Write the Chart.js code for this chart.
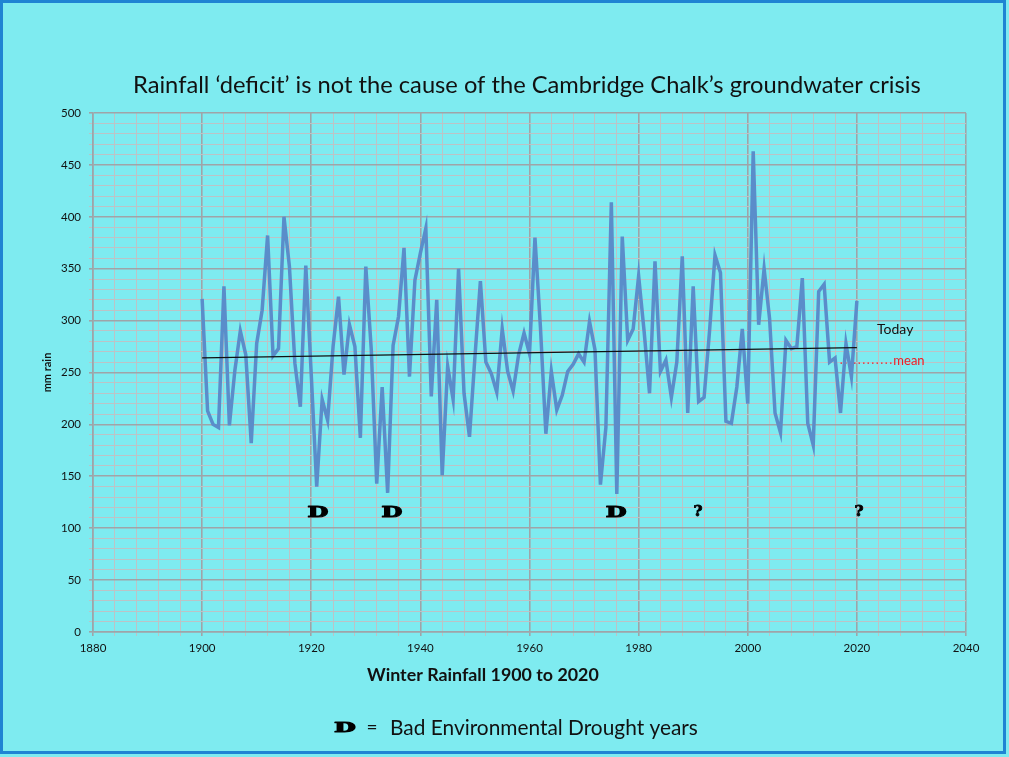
<!DOCTYPE html>
<html><head><meta charset="utf-8">
<script src="https://cdn.jsdelivr.net/npm/chart.js@4.4.1/dist/chart.umd.min.js"></script>
<style>html,body{margin:0;padding:0;background:#7eebf0;}canvas{display:block;}</style>
</head><body>
<canvas id="c" width="1009" height="757"></canvas>
<script>
// ---- data ----
const firstYear = 1900;
const rainfall = [
 321,213,200,197,333,199,252,290,267,182,
 278,310,382,266,273,400,352,259,217,353,
 248,140,224,204,275,323,248,296,275,187,
 352,272,143,236,134,276,304,370,246,339,
 365,389,227,320,151,256,224,350,230,188,
 265,338,260,249,231,292,251,232,267,288,
 268,380,294,191,251,214,228,251,258,268,
 260,299,272,142,197,414,133,381,281,292,
 343,290,230,357,251,262,226,260,362,211,
 333,222,226,290,363,346,203,201,236,292,
 220,463,296,350,302,211,192,281,273,275,
 341,201,180,328,335,260,264,211,278,246,
 319
];
const years = rainfall.map((_, i) => firstYear + i);
const trendYears = [1900, 2020];
const trendValues = [264, 274];
const meanYears = [2017, 2026.5];
const meanValues = [259, 259];
const droughtYears = [1921.2, 1934.8, 1975.9];
const queryYears = [1990.9, 2020.4];
const markerLevel = 115;
const xTickLabels = [1880, 1900, 1920, 1940, 1960, 1980, 2000, 2020, 2040];
const yTickLabels = [0, 50, 100, 150, 200, 250, 300, 350, 400, 450, 500];
const titleText = 'Rainfall \u2018deficit\u2019 is not the cause of the Cambridge Chalk\u2019s groundwater crisis';
const xTitle = 'Winter Rainfall 1900 to 2020';
const yTitle = 'mm rain';
const legendText = 'Bad Environmental Drought years';
const todayLabel = 'Today';
const meanLabel = 'mean';

// ---- styling ----
const BG = '#7eebf0';
const FONT = 'Lato, "Open Sans", sans-serif';
const MAJOR = '#9fa4a8';
const MINOR = '#bcc3c6';

function fitFont(ctx, text, weight, width) {
  ctx.font = `${weight} 100px ${FONT}`;
  return 100 * width / ctx.measureText(text).width;
}
function drawFitted(ctx, text, weight, left, right, cy, color) {
  const s = fitFont(ctx, text, weight, right - left);
  ctx.font = `${weight} ${s}px ${FONT}`;
  ctx.fillStyle = color || '#111';
  ctx.textAlign = 'left';
  ctx.textBaseline = 'middle';
  ctx.fillText(text, left, cy);
}
function drawWideGlyph(ctx, ch, cx, cy, size, sx, stroke) {
  ctx.save();
  ctx.translate(cx, cy);
  ctx.scale(sx, 1);
  ctx.font = `bold ${size}px "DejaVu Serif", serif`;
  ctx.fillStyle = '#000';
  ctx.strokeStyle = '#000';
  ctx.lineWidth = stroke;
  ctx.lineJoin = 'round';
  ctx.textAlign = 'center';
  ctx.textBaseline = 'middle';
  ctx.fillText(ch, 0, 0);
  if (stroke > 0) ctx.strokeText(ch, 0, 0);
  ctx.restore();
}

const deco = {
  id: 'deco',
  beforeDraw(chart) {
    const c = chart.ctx;
    c.save(); c.fillStyle = BG; c.fillRect(0, 0, chart.width, chart.height); c.restore();
  },
  afterDraw(chart) {
    const c = chart.ctx, xs = chart.scales.x, ys = chart.scales.y;
    c.save();
    // outer frame
    c.strokeStyle = '#1f84d3'; c.lineWidth = 3;
    c.strokeRect(1.5, 1.5, 1003, 751);
    // title
    drawFitted(c, titleText, 'normal', 133, 921, 85, '#111');
    // x title
    drawFitted(c, xTitle, 'bold', 367, 599, 675, '#111');
    // y title
    c.save();
    c.translate(47, (ys.top + ys.bottom) / 2);
    c.rotate(-Math.PI / 2);
    c.font = `bold 11px ${FONT}`;
    c.fillStyle = '#111'; c.textAlign = 'center'; c.textBaseline = 'middle';
    c.fillText(yTitle, 0, 0);
    c.restore();
    // drought markers
    const my = ys.getPixelForValue(markerLevel);
    droughtYears.forEach(y => drawWideGlyph(c, 'D', xs.getPixelForValue(y), my, 15, 1.6, 1.1));
    queryYears.forEach(y => drawWideGlyph(c, '?', xs.getPixelForValue(y), my, 14, 1.1, 0.8));
    // Today + mean labels
    c.font = `14px ${FONT}`; c.fillStyle = '#111'; c.textAlign = 'left'; c.textBaseline = 'middle';
    c.fillText(todayLabel, 877, 329);
    c.font = `13px ${FONT}`; c.fillStyle = '#ee1c25';
    c.fillText(meanLabel, xs.getPixelForValue(meanYears[1]) + 1, ys.getPixelForValue(meanValues[1]) - 2);
    // legend
    drawWideGlyph(c, 'D', 345, 729, 12, 2.05, 1.1);
    c.font = `19px ${FONT}`; c.fillStyle = '#111'; c.textAlign = 'center'; c.textBaseline = 'middle';
    c.fillText('=', 372, 728);
    drawFitted(c, legendText, 'normal', 390, 698, 728, '#111');
    c.restore();
  }
};

const gridColor = (step) => (ctx) => (ctx.tick && ctx.tick.value % step === 0) ? MAJOR : MINOR;
const gridWidth = (step) => (ctx) => (ctx.tick && ctx.tick.value % step === 0) ? 1.6 : 1;

new Chart(document.getElementById('c'), {
  type: 'line',
  data: {
    datasets: [
      {
        label: 'trend',
        data: trendYears.map((x, i) => ({ x, y: trendValues[i] })),
        borderColor: '#111', borderWidth: 1.3, pointRadius: 0, order: 0
      },
      {
        label: 'Winter rainfall',
        data: years.map((x, i) => ({ x, y: rainfall[i] })),
        borderColor: '#5a8dca', borderWidth: 3.5, pointRadius: 0, tension: 0,
        borderJoinStyle: 'miter', order: 1
      },
      {
        label: 'mean',
        data: meanYears.map((x, i) => ({ x, y: meanValues[i] })),
        borderColor: '#ee1c25', borderWidth: 1.2, borderDash: [1.5, 3], pointRadius: 0, order: 2
      }
    ]
  },
  options: {
    responsive: false,
    devicePixelRatio: 1,
    animation: false,
    layout: { padding: { left: 0, top: 113, right: 43, bottom: 95 } },
    plugins: { legend: { display: false }, tooltip: { enabled: false }, title: { display: false } },
    scales: {
      x: {
        type: 'linear', min: xTickLabels[0], max: xTickLabels[xTickLabels.length - 1],
        afterFit: (s) => { s.height = 30; },
        ticks: {
          stepSize: 4, autoSkip: false, maxRotation: 0, maxTicksLimit: 1000, padding: 5,
          color: '#111', font: { family: FONT, size: 11.5 },
          callback: (v) => xTickLabels.includes(v) ? String(v) : ''
        },
        grid: { color: gridColor(20), lineWidth: gridWidth(20), tickLength: 4, drawTicks: true },
        border: { color: MAJOR, width: 1.6 }
      },
      y: {
        type: 'linear', min: yTickLabels[0], max: yTickLabels[yTickLabels.length - 1],
        afterFit: (s) => { s.width = 93; },
        ticks: {
          stepSize: 10, autoSkip: false, maxTicksLimit: 1000, padding: 8,
          color: '#111', font: { family: FONT, size: 11.5 },
          callback: (v) => yTickLabels.includes(v) ? String(v) : ''
        },
        grid: { color: gridColor(50), lineWidth: gridWidth(50), tickLength: 4, drawTicks: true },
        border: { color: MAJOR, width: 1.6 }
      }
    }
  },
  plugins: [deco]
});
</script>
</body></html>
